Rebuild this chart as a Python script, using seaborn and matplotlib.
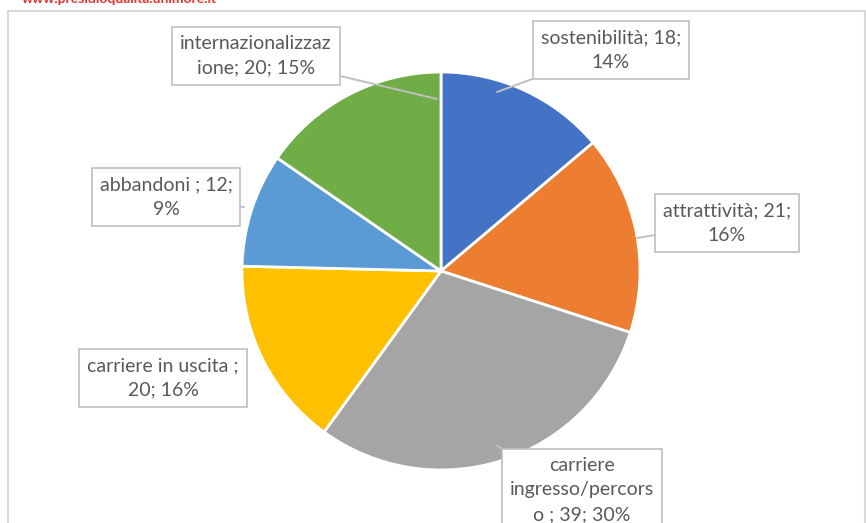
import matplotlib.pyplot as plt
import matplotlib.patches as mpatches
import seaborn as sns

# dati (ordine orario dalle ore 12)
CATEGORIE = ["sostenibilità", "attrattività", "carriere ingresso/percorso",
             "carriere in uscita", "abbandoni", "internazionalizzazione"]
VALORI = [18, 21, 39, 20, 12, 20]
PERCENTUALI = [14, 16, 30, 16, 9, 15]
ETICHETTE = ["sostenibilità; 18;\n14%",
             "attrattività; 21;\n16%",
             "carriere\ningresso/percors\no ; 39; 30%",
             "carriere in uscita ;\n20; 16%",
             "abbandoni ; 12;\n9%",
             "internazionalizzaz\nione; 20; 15%"]
COLORI = ["#4472C4", "#ED7D31", "#A5A5A5", "#FFC000", "#5B9BD5", "#70AD47"]

sns.set_theme(style="white")
plt.rcParams["font.family"] = ["Lato", "DejaVu Sans"]

W, H = 866, 523
fig = plt.figure(figsize=(W / 100, H / 100), dpi=100)
ax = fig.add_axes([0, 0, 1, 1])

# centro torta in pixel (441, 271), raggio 199 px
cx, cy, R = 441, 271, 199

wedges, _ = ax.pie(VALORI, colors=COLORI, startangle=90, counterclock=False,
                   radius=1, wedgeprops=dict(edgecolor="white", linewidth=2))

ax.set_xlim(-cx / R, (W - cx) / R)
ax.set_ylim(-(H - cy) / R, cy / R)
ax.set_aspect("equal")
ax.axis("off")


def px(x, y):
    return ((x - cx) / R, (cy - y) / R)


# posizioni etichette (pixel) e punto del richiamo
pos_testo = [(611, 50), (727, 223), (582, 490), (163, 378), (166, 197), (256, 56)]
pos_punto = [(497, 92), (637, 238), (497, 446), (246, 365), (244, 207), (437, 99)]

for lab, (tx, ty), (pxx, pyy) in zip(ETICHETTE, pos_testo, pos_punto):
    ax.annotate(lab, xy=px(pxx, pyy), xytext=px(tx, ty),
                ha="center", va="center", fontsize=14, color="#595959",
                linespacing=1.55,
                bbox=dict(boxstyle="square,pad=0.4", fc="white", ec="#BFBFBF", lw=1.2),
                arrowprops=dict(arrowstyle="-", color="#BFBFBF", lw=1.4,
                                shrinkA=0, shrinkB=0))

# cornice dell'area grafico
fig.patches.append(mpatches.Rectangle((8 / W, -0.05), (865 - 8) / W, 1.05 - 11 / H,
                                      transform=fig.transFigure, fill=False,
                                      ec="#D9D9D9", lw=1.5))

# testo rosso tagliato in alto
fig.text(22 / W, 1 - 5 / H, "www.presidioqualita.unimore.it", color="#E8322B",
         fontsize=10, fontweight="bold", va="bottom", ha="left")

fig.savefig("out.png", dpi=100)
